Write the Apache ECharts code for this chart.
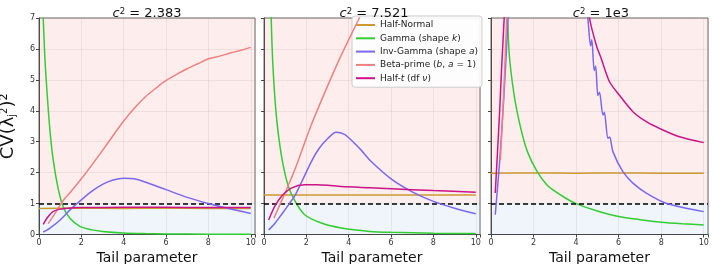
<!DOCTYPE html>
<html><head><meta charset="utf-8">
<script src="https://cdn.jsdelivr.net/npm/echarts@6/dist/echarts.min.js"></script>
<style>html,body{margin:0;padding:0;background:#fff}#c{width:713px;height:264px}</style>
</head><body><div id="c"></div>
<script>
// ---- data ----
const seriesNames = ['Half-Normal', 'Gamma (shape k)', 'Inv-Gamma (shape a)', 'Beta-prime (b, a = 1)', 'Half-t (df ν)'];
const panelTitles = ['2.383', '7.521', '1e3'];
const xTicks = [0, 2, 4, 6, 8, 10];
const yTicks = [0, 1, 2, 3, 4, 5, 6, 7];

// panel 1 : c^2 = 2.383
const halfNormal1 = [[0, 0.84], [2, 0.85], [4, 0.84], [6, 0.85], [8, 0.84], [10, 0.84]];
const gamma1 = [[0.2, 7.0], [0.27, 5.8], [0.35, 4.9], [0.5, 3.5], [0.66, 2.46], [0.9, 1.5], [1.14, 0.9], [1.45, 0.53], [1.93, 0.26], [2.5, 0.15], [3, 0.1], [4, 0.05], [5, 0.03], [6, 0.02], [8, 0.01], [10, 0.01]];
const invGamma1 = [[0.2, 0.08], [0.5, 0.2], [1, 0.47], [1.5, 0.82], [2, 1.12], [2.5, 1.4], [3, 1.62], [3.5, 1.76], [4, 1.82], [4.5, 1.8], [5, 1.7], [6, 1.45], [7, 1.2], [8, 1.0], [9, 0.83], [10, 0.68]];
const betaPrime1 = [[0.43, 0.35], [0.7, 0.62], [1.14, 1.1], [1.5, 1.38], [2, 1.8], [2.5, 2.25], [3, 2.72], [3.5, 3.2], [4, 3.67], [4.5, 4.08], [5, 4.44], [5.5, 4.72], [6, 4.98], [6.5, 5.18], [7, 5.36], [7.5, 5.52], [8, 5.68], [8.5, 5.76], [9, 5.86], [9.5, 5.95], [10, 6.05]];
const halfT1 = [[0.2, 0.33], [0.4, 0.55], [0.66, 0.74], [1.0, 0.82], [1.5, 0.86], [2, 0.87], [4, 0.88], [6, 0.88], [8, 0.87], [10, 0.87]];

// panel 2 : c^2 = 7.521
const halfNormal2 = [[0, 1.28], [2, 1.28], [4, 1.28], [6, 1.28], [8, 1.28], [10, 1.28]];
const gamma2 = [[0.3, 8.5], [0.34, 7.0], [0.42, 5.47], [0.58, 3.86], [0.82, 2.57], [1.13, 1.6], [1.48, 1.06], [1.92, 0.64], [2.71, 0.37], [3.65, 0.21], [5, 0.1], [6, 0.07], [8, 0.04], [10, 0.03]];
const invGamma2 = [[0.22, 0.15], [0.5, 0.35], [0.82, 0.64], [1.2, 1.0], [1.48, 1.28], [2.23, 2.35], [2.6, 2.78], [3.02, 3.11], [3.4, 3.31], [3.8, 3.24], [4.2, 3.0], [4.6, 2.72], [5, 2.4], [6, 1.8], [7, 1.38], [8, 1.07], [9, 0.85], [10, 0.67]];
const betaPrime2 = [[0.47, 0.53], [1.0, 1.35], [1.48, 2.14], [2.23, 3.54], [3.02, 4.83], [3.65, 5.8], [4.5, 7.0], [5, 7.7], [6, 8.9], [8, 11], [10, 12.5]];
const halfT2 = [[0.22, 0.47], [0.5, 0.9], [0.82, 1.23], [1.29, 1.5], [1.92, 1.61], [2.5, 1.61], [3.02, 1.59], [3.65, 1.55], [5, 1.51], [6, 1.48], [8, 1.42], [10, 1.37]];

// panel 3 : c^2 = 1e3
const halfNormal3 = [[0, 1.98], [2, 1.99], [4, 1.98], [6, 1.99], [8, 1.98], [10, 1.98]];
const gamma3 = [[0.5, 15], [0.75, 7.8], [0.85, 5.9], [1.09, 4.5], [1.4, 3.43], [1.71, 2.68], [2.17, 2.03], [2.63, 1.6], [3, 1.4], [3.5, 1.18], [4, 1.0], [5, 0.76], [6, 0.58], [7, 0.48], [8, 0.4], [9, 0.35], [10, 0.31]];
const invGamma3 = [[0.2, 0.64], [0.4, 2.3], [0.6, 4.4], [0.8, 7.0], [1, 11], [2, 20], [3, 16], [4, 10], [4.55, 7.0], [4.68, 6.1], [4.74, 6.3], [4.85, 5.3], [4.92, 5.45], [5.02, 4.5], [5.1, 4.6], [5.26, 3.86], [5.33, 3.95], [5.49, 3.11], [5.58, 3.15], [5.73, 2.68], [6.2, 2.03], [6.67, 1.66], [7.3, 1.34], [8.23, 1.01], [9.17, 0.85], [10, 0.74]];
const betaPrime3 = [[0.44, 2.41], [0.6, 4.6], [0.74, 7.0], [1, 11], [2, 25], [5, 60], [10, 90]];
const halfT3 = [[0.2, 1.34], [0.3, 2.6], [0.4, 3.9], [0.5, 5.4], [0.62, 7.0], [0.7, 8.2], [1, 14], [2, 25], [3, 18], [4, 10], [4.63, 7.0], [4.95, 6.12], [5.18, 5.69], [5.57, 4.94], [6.04, 4.5], [6.67, 3.97], [7.3, 3.65], [8.08, 3.38], [8.86, 3.16], [10, 2.97]];

const panels = [
  [halfNormal1, gamma1, invGamma1, betaPrime1, halfT1],
  [halfNormal2, gamma2, invGamma2, betaPrime2, halfT2],
  [halfNormal3, gamma3, invGamma3, betaPrime3, halfT3]
];

// ---- styles ----
const colors = ['#cc9933', '#33cc33', '#7b68ee', '#f08080', '#cc1488'];
const gridLefts = [39, 264, 491];
const gridWidths = [216, 216, 217];
const titleCenters = [142, 369, 596];
const FONT = 'DejaVu Sans';

const legendRich = {
  'Half-Normal': 'Half-Normal',
  'Gamma (shape k)': 'Gamma (shape {i|k})',
  'Inv-Gamma (shape a)': 'Inv-Gamma (shape {i|a})',
  'Beta-prime (b, a = 1)': 'Beta-prime ({i|b}, {i|a} = 1)',
  'Half-t (df ν)': 'Half-{i|t} (df {i|ν})'
};

const grids = [], xAxes = [], yAxes = [], series = [], titles = [];
for (let p = 0; p < 3; p++) {
  grids.push({left: gridLefts[p], top: 18, width: gridWidths[p], height: 216.5,
    outerBoundsMode: 'none', containLabel: false,
    show: true, borderColor: '#666', borderWidth: 1, backgroundColor: 'transparent'});
  xAxes.push({type: 'value', gridIndex: p, min: 0, max: 10.2, interval: 2,
    name: 'Tail parameter', nameLocation: 'middle', nameGap: 13,
    nameTextStyle: {fontFamily: FONT, fontSize: 14, color: '#111'},
    axisLine: {show: true, onZero: false, lineStyle: {color: '#444'}},
    axisTick: {show: true, length: 3, lineStyle: {color: '#444'}},
    axisLabel: {fontFamily: FONT, fontSize: 8, color: '#333', margin: 4,
      formatter: v => xTicks.includes(v) ? String(v) : ''},
    splitLine: {show: true, lineStyle: {color: 'rgba(120,120,120,0.13)', width: 1}}});
  yAxes.push({type: 'value', gridIndex: p, min: 0, max: 7, interval: 1,
    name: p === 0 ? 'CV(λ̃{sub|j}{sup|2})²' : '', nameLocation: 'middle', nameGap: 22, nameRotate: 90,
    nameTextStyle: {fontFamily: FONT, fontSize: 18, color: '#111',
      rich: {sub: {fontSize: 10, fontFamily: FONT, verticalAlign: 'bottom', padding: [8, 0, 0, 0]},
             sup: {fontSize: 10, fontFamily: FONT, verticalAlign: 'top', padding: [0, 0, 6, 0]}}},
    axisLine: {show: true, lineStyle: {color: '#444'}},
    axisTick: {show: true, length: 3, lineStyle: {color: '#444'}},
    axisLabel: {show: p === 0, fontFamily: FONT, fontSize: 8, color: '#333', margin: 4,
      formatter: v => yTicks.includes(v) ? String(v) : ''},
    splitLine: {show: true, lineStyle: {color: 'rgba(120,120,120,0.13)', width: 1}}});
  titles.push({text: '{i|c}{s|2} = ' + panelTitles[p], left: titleCenters[p], top: 2,
    textAlign: 'center',
    textStyle: {fontFamily: FONT, fontSize: 13, fontWeight: 'normal', color: '#111',
      rich: {i: {fontFamily: FONT, fontSize: 13, fontStyle: 'italic'},
             s: {fontFamily: FONT, fontSize: 8.5, verticalAlign: 'top', padding: [0, 0, 5, 0]}}}});
  panels[p].forEach((d, k) => {
    const s = {name: seriesNames[k], type: 'line', xAxisIndex: p, yAxisIndex: p, data: d,
      showSymbol: false, symbol: 'none', smooth: 0.25, clip: true,
      lineStyle: {color: colors[k], width: 1.5}, itemStyle: {color: colors[k]}, z: 3 + k, silent: true};
    if (k === 0) {
      s.markArea = {silent: true, label: {show: false}, data: [
        [{yAxis: 1, itemStyle: {color: 'rgba(235,110,95,0.12)'}}, {yAxis: 7}],
        [{yAxis: 0, itemStyle: {color: 'rgba(100,160,220,0.10)'}}, {yAxis: 1}]
      ]};
      s.markLine = {silent: true, symbol: 'none', label: {show: false},
        lineStyle: {color: '#000', type: [5, 3], width: 1.5}, data: [{yAxis: 1}]};
    }
    series.push(s);
  });
}

const chart = echarts.init(document.getElementById('c'), null, {renderer: 'canvas'});
chart.setOption({
  animation: false,
  title: titles,
  grid: grids, xAxis: xAxes, yAxis: yAxes, series: series,
  legend: {data: seriesNames, orient: 'vertical', left: 352, top: 16,
    icon: 'rect', itemWidth: 19, itemHeight: 2, itemGap: 1.3, padding: [3, 4, 3, 4],
    backgroundColor: 'rgba(255,255,255,0.9)', borderColor: '#ccc', borderWidth: 1, borderRadius: 3,
    textStyle: {fontFamily: FONT, fontSize: 9, color: '#222', lineHeight: 12,
      rich: {i: {fontFamily: FONT, fontSize: 9, fontStyle: 'italic', color: '#222'}}},
    formatter: n => legendRich[n]}
});
</script></body></html>
